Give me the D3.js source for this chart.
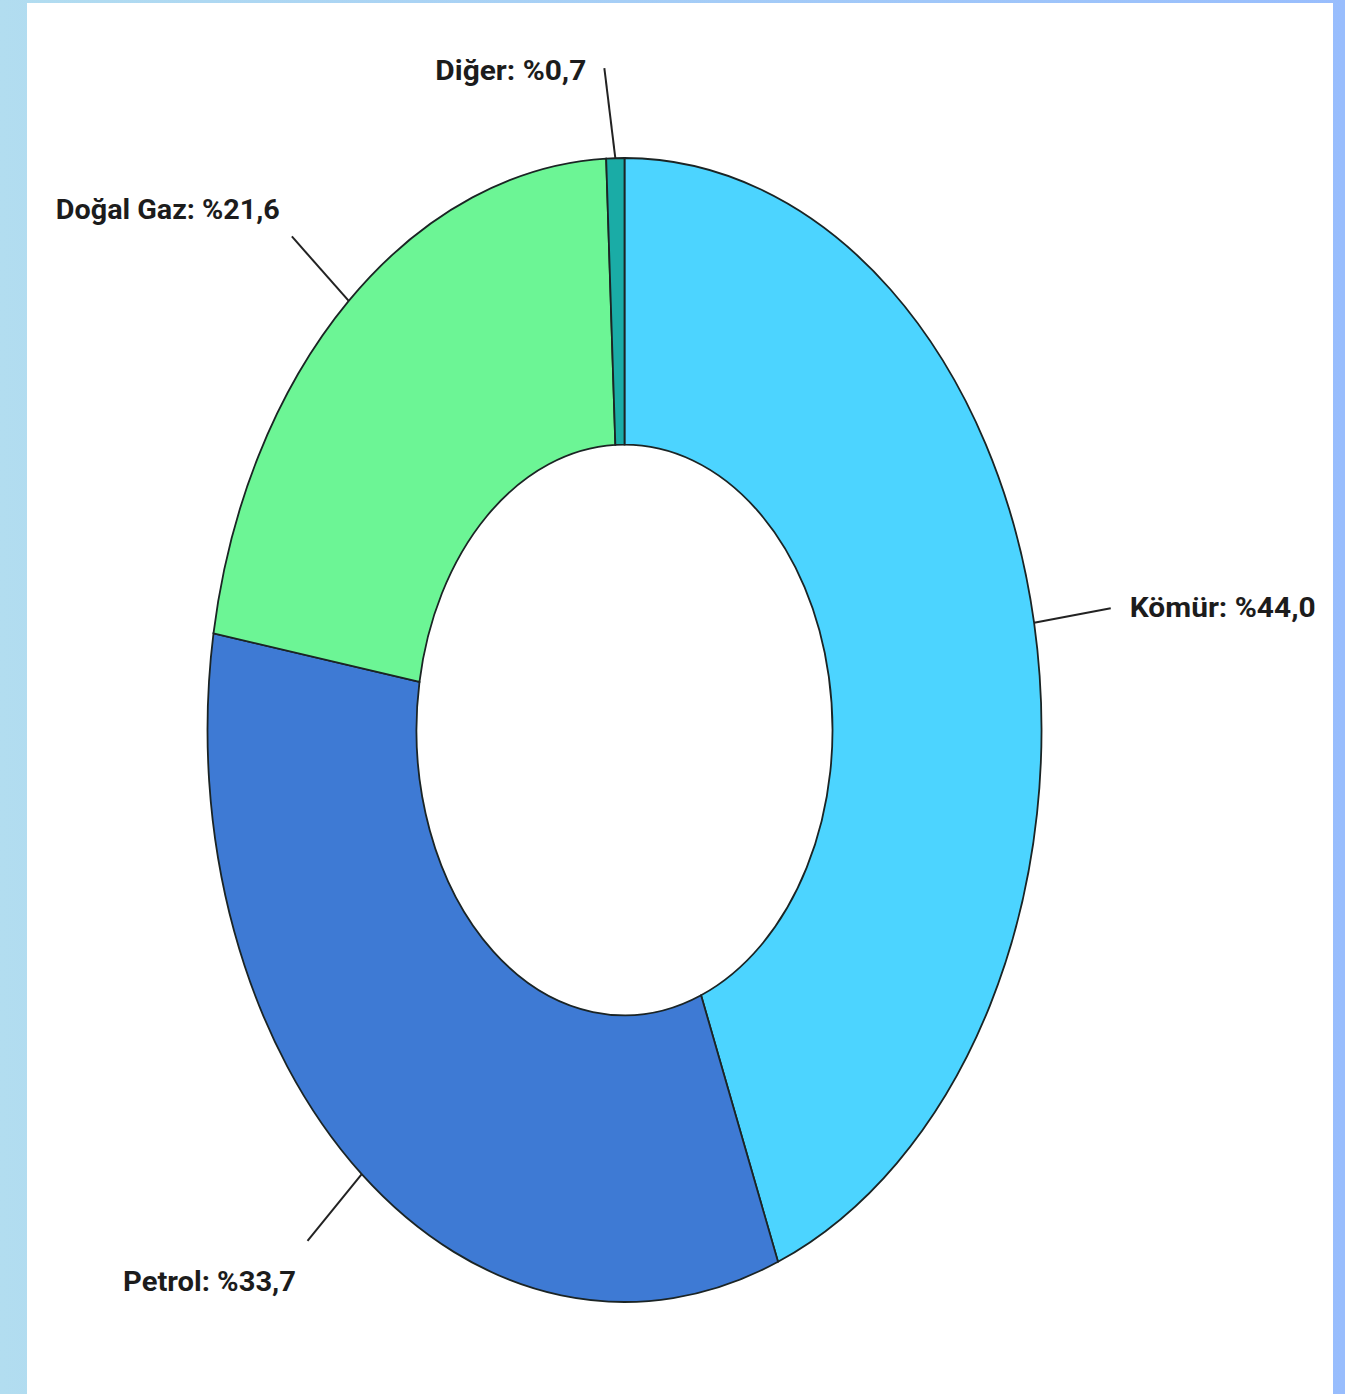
<!DOCTYPE html>
<html>
<head>
<meta charset="utf-8">
<script src="https://cdn.jsdelivr.net/npm/d3@7"></script>
<style>
  html, body { margin: 0; padding: 0; }
  body { width: 1345px; height: 1394px; overflow: hidden; }
</style>
</head>
<body>
<svg id="chart"></svg>
<script>
// data
const categories = ["Kömür", "Petrol", "Doğal Gaz", "Diğer"];
const shares = [44.0, 33.7, 21.6, 0.7];
const labels = ["Kömür: %44,0", "Petrol: %33,7", "Doğal Gaz: %21,6", "Diğer: %0,7"];
const colors = ["#4cd4ff", "#3e7ad4", "#6cf595", "#1aaca6"];

// leader length / tilt and label placement relative to the leader end
const labelLayout = {
  "Kömür":     { len: 78, tilt: 0,   anchor: "start",  dx: 19,  dy: -1,  tl: 186 },
  "Petrol":    { len: 86, tilt: 0,   anchor: "middle", dx: -98, dy: 41,  tl: 173 },
  "Doğal Gaz": { len: 86, tilt: 0,   anchor: "end",    dx: -12, dy: -27, tl: 224 },
  "Diğer":     { len: 90, tilt: -9,  anchor: "end",    dx: -18, dy: 2,   tl: 151 }
};

const width = 1345, height = 1394;
const cx = 624.5, cy = 730;
const outerR = 417, innerR = 208, yScale = 572 / 417;

const svg = d3.select("#chart")
  .attr("width", width)
  .attr("height", height);

// background frame
const defs = svg.append("defs");
const grad = defs.append("linearGradient").attr("id", "frame")
  .attr("x1", "0%").attr("x2", "100%").attr("y1", "0%").attr("y2", "0%");
grad.append("stop").attr("offset", "0%").attr("stop-color", "#b2ddf0");
grad.append("stop").attr("offset", "100%").attr("stop-color", "#98bdfd");

svg.append("rect").attr("width", width).attr("height", height).attr("fill", "url(#frame)");
svg.append("rect")
  .attr("x", 27).attr("y", 3)
  .attr("width", 1333 - 27).attr("height", height - 3)
  .attr("fill", "#ffffff");

const data = categories.map((c, i) => ({ name: c, value: shares[i], label: labels[i], color: colors[i] }));

const pie = d3.pie()
  .sort(null)
  .value(d => d.value)
  .startAngle(0)
  .endAngle(2 * Math.PI);

const arc = d3.arc().innerRadius(innerR).outerRadius(outerR);

const arcs = pie(data);

// donut drawn as a circle and stretched vertically
const g = svg.append("g")
  .attr("transform", "translate(" + cx + "," + cy + ") scale(1," + yScale + ")");

g.selectAll("path")
  .data(arcs)
  .enter().append("path")
  .attr("d", arc)
  .attr("fill", d => d.data.color)
  .attr("stroke", "#1b2424")
  .attr("stroke-width", 1.8)
  .attr("vector-effect", "non-scaling-stroke");

// leader lines and labels
const labelG = svg.append("g");

arcs.forEach(function (d) {
  const lay = labelLayout[d.data.name];
  const a = (d.startAngle + d.endAngle) / 2;
  const sx = cx + outerR * Math.sin(a);
  const sy = cy - outerR * yScale * Math.cos(a);
  const ex = sx + lay.len * Math.sin(a) + lay.tilt;
  const ey = sy - lay.len * Math.cos(a);

  labelG.append("line")
    .attr("x1", sx).attr("y1", sy)
    .attr("x2", ex).attr("y2", ey)
    .attr("stroke", "#222")
    .attr("stroke-width", 2);

  labelG.append("text")
    .attr("x", ex + lay.dx)
    .attr("y", ey + lay.dy)
    .attr("text-anchor", lay.anchor)
    .attr("dominant-baseline", "central")
    .attr("textLength", lay.tl)
    .attr("lengthAdjust", "spacingAndGlyphs")
    .style("font-family", "Roboto, 'Open Sans', sans-serif")
    .style("font-weight", "700")
    .style("font-size", "28px")
    .style("fill", "#1c1c1c")
    .text(d.data.label);
});
</script>
</body>
</html>
